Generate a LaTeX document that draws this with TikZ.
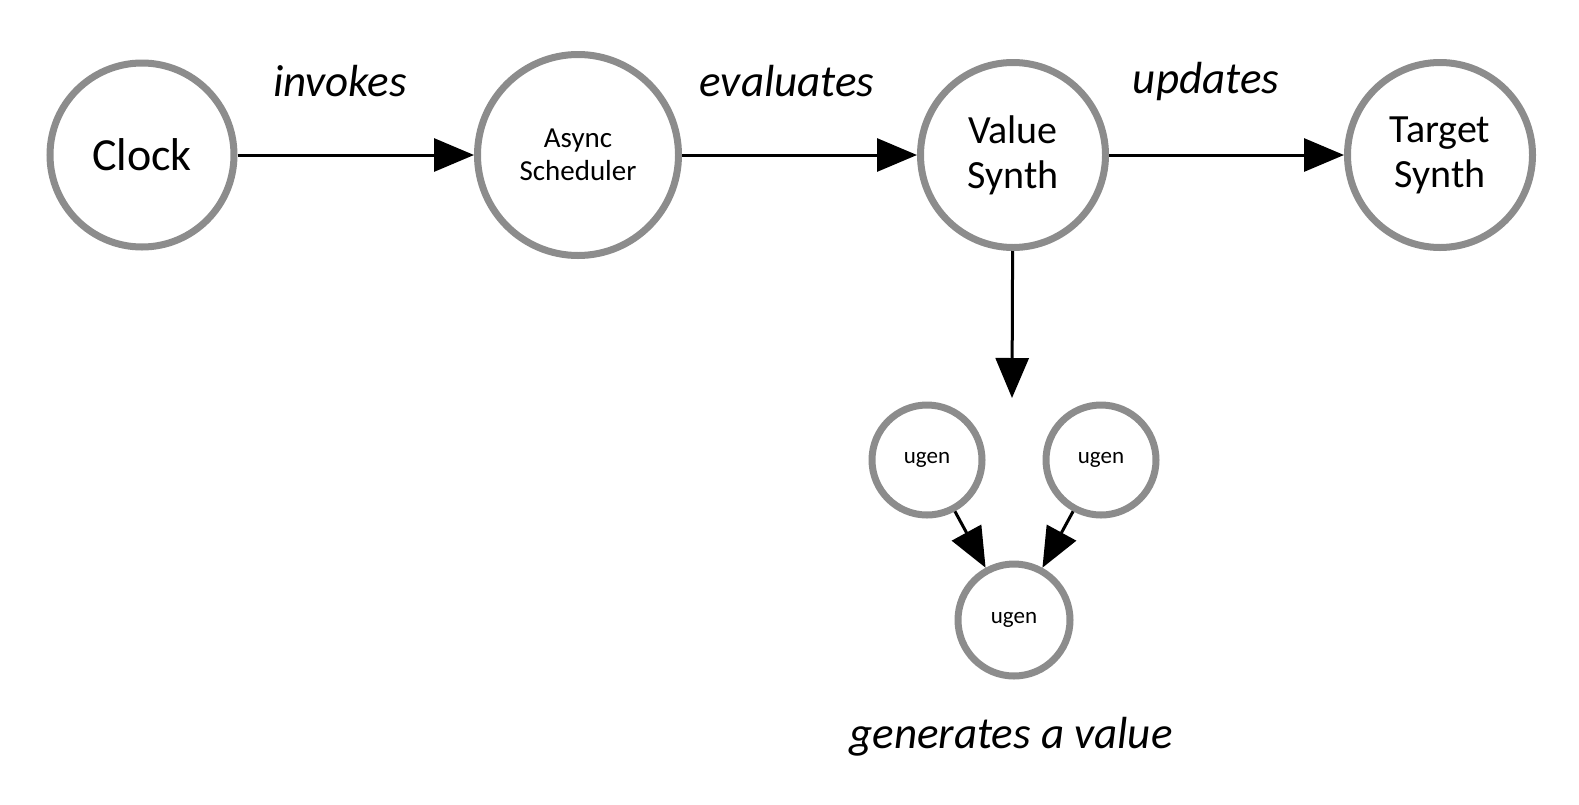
\documentclass[tikz,border=0pt]{standalone}
\usepackage{fontspec}
\setmainfont{Carlito}
\usetikzlibrary{arrows.meta,positioning}

\definecolor{ringgray}{RGB}{140,140,140}

\begin{document}
\begin{tikzpicture}[x=0.5pt,y=-0.5pt,
    unit/.style={circle,draw=ringgray,line width=3.5pt,align=center,inner sep=0pt},
    bigunit/.style={unit,minimum size=92.5pt,font=\fontsize{20}{22.5}\selectfont},
    ugenunit/.style={unit,minimum size=55pt,font=\fontsize{11.5}{13}\selectfont},
    verb/.style={font=\fontsize{22.5}{26}\selectfont\itshape},
    flow/.style={-{Triangle[length=20pt,width=16.5pt]},line width=1.5pt,black}]
    \useasboundingbox (0,0) rectangle (1579,804);

    % main chain
    \node [bigunit,minimum size=92pt,font=\fontsize{23}{26}\selectfont] (clock) at (142,155) {Clock};
    \node [unit,minimum size=100.5pt,font=\fontsize{14.5}{16.5}\selectfont] (sched) at (578,155) {Async\\Scheduler};
    \node [bigunit] (value) at (1013,155) {Value\\Synth};
    \node [bigunit] (target) at (1440,155) {Target\\Synth};

    % ugen graph
    \node [ugenunit] (ugenl) at (927,460) {ugen};
    \node [ugenunit] (ugenr) at (1101,460) {ugen};
    \node [ugenunit,minimum size=56pt] (ugenb) at (1014,620) {ugen};
    \coordinate (graphin) at (1012,398);

    \draw [flow] (clock) -- (sched);
    \draw [flow] (sched) -- (value);
    \draw [flow] (value) -- (target);
    \draw [flow] (value) -- (graphin);
    \draw [flow] (ugenl) -- (ugenb);
    \draw [flow] (ugenr) -- (ugenb);

    % labels
    \node [verb] (invokes) at (340,81) {invokes};
    \node [verb] (evaluates) at (787,81) {evaluates};
    \node [verb] (updates) at (1206,81) {updates};
    \node [verb] (generates) at (1011,737) {generates a value};
\end{tikzpicture}
\end{document}
